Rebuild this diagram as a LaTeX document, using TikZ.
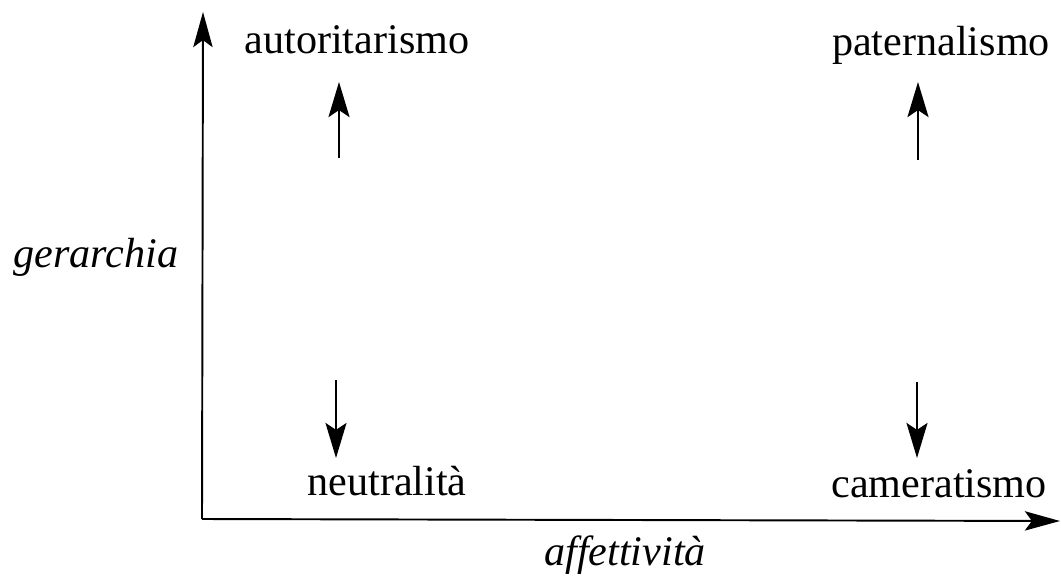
\documentclass[tikz,border=0pt]{standalone}
\usepackage{fontspec}
\setmainfont{Liberation Serif}
\usetikzlibrary{arrows.meta}

\tikzset{
  lbl/.style={font=\fontsize{24}{28}\selectfont, inner sep=2pt, anchor=base},
  ax/.style={line width=1.1pt, -{Stealth[length=20pt,width=11pt,inset=4pt]}},
  dir/.style={line width=0.9pt, -{Stealth[length=20pt,width=12pt,inset=4pt]}}
}

\begin{document}
\begin{tikzpicture}[x=0.02cm,y=-0.02cm]
        \useasboundingbox (0,0) rectangle (1061,578);
        % axes
        \coordinate (origin) at (202,519);
        \coordinate (ytop) at (203,12);
        \coordinate (xend) at (1060,521);
        \draw[ax] (origin) -- (ytop);
        \draw[ax] (origin) -- (xend);

        \node[lbl] (aut) at (357,53) {autoritarismo};
        \node[lbl] (pat) at (941,55) {paternalismo};
        \node[lbl] (neu) at (387,495) {neutralità};
        \node[lbl] (cam) at (939,497) {cameratismo};
        \node[lbl,font=\fontsize{24}{28}\selectfont\itshape] (ger) at (96,267) {gerarchia};
        \node[lbl,font=\fontsize{24}{28}\selectfont\itshape] (aff) at (625,565) {affettività};

        % small arrows
        \coordinate (autfrom) at (339,158);
        \coordinate (patfrom) at (918,160);
        \coordinate (neufrom) at (336,380);
        \coordinate (camfrom) at (917,382);
        \draw[dir] (autfrom) -- (autfrom |- 0,82);
        \draw[dir] (patfrom) -- (patfrom |- 0,82);
        \draw[dir] (neufrom) -- (neufrom |- 0,458);
        \draw[dir] (camfrom) -- (camfrom |- 0,458);
\end{tikzpicture}
\end{document}
